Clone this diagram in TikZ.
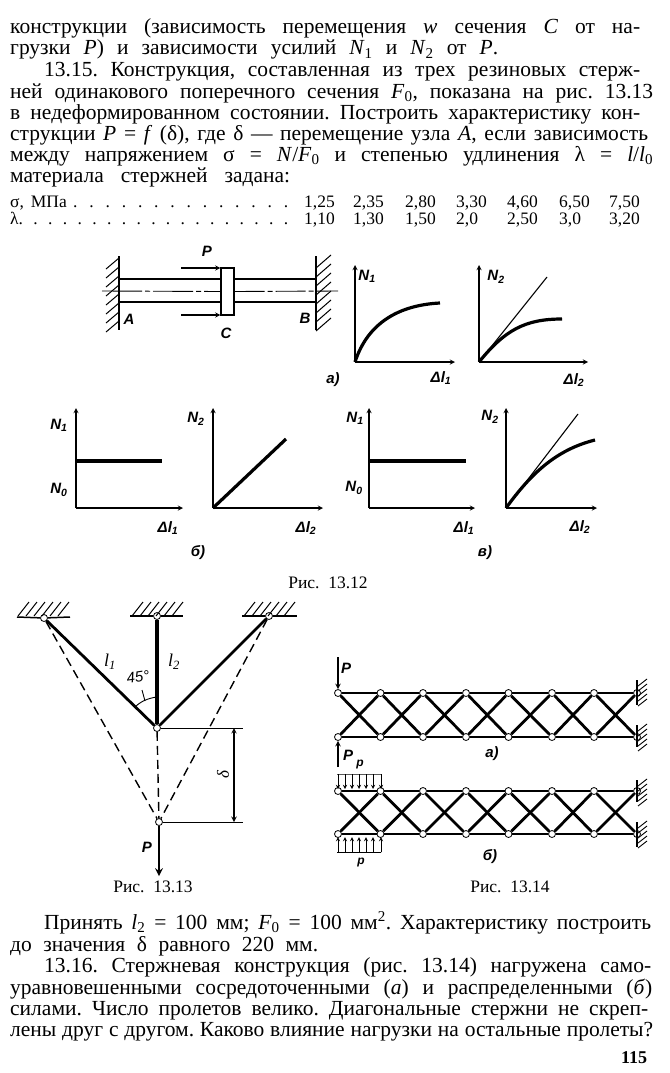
\documentclass[tikz,border=0pt]{standalone}
\usepackage{fontspec}
\setmainfont{Liberation Serif}
\newfontfamily\labelfont{Liberation Sans}
\usetikzlibrary{arrows}
\newcommand{\fitline}[2]{\makebox[#1pt][s]{#2}}
\newcommand{\pagefont}{\fontsize{21.5}{22}\selectfont\frenchspacing}
\newcommand{\tablefont}{\fontsize{17.5}{18}\selectfont}
\newcommand{\figlabel}{\fontsize{15}{16}\selectfont\labelfont\bfseries\itshape}
\tikzstyle{textline} = [anchor=base west, inner sep=0pt, font=\pagefont]
\tikzstyle{tablecell} = [anchor=base west, inner sep=0pt, font=\tablefont]
\tikzstyle{caption} = [anchor=base, inner sep=0pt, font=\tablefont]
\tikzstyle{lab} = [inner sep=0pt, font=\figlabel]
\tikzstyle{joint} = [circle, draw=black, fill=white, thick, inner sep=0pt, minimum size=7pt]
\tikzstyle{bar} = [line width=2.8pt]
\tikzstyle{chord} = [line width=2.2pt]
\tikzstyle{thin line} = [line width=0.9pt]
\tikzstyle{axis} = [line width=1.3pt,->,>= stealth]
\tikzstyle{curve} = [line width=3.2pt]
\tikzstyle{hatch} = [line width=1pt]
\tikzstyle{deformed} = [line width=1.4pt, dash pattern=on 9pt off 5pt]

\begin{document}
\begin{tikzpicture}[x=1pt,y=-1pt]
\useasboundingbox [fill=white] (0,0) rectangle (669,1073);

% text above
\node (top1) [textline] at (10,34) {\fitline{630}{конструкции (зависимость перемещения \textit{w} сечения \textit{C} от на-}};
\node (top2) [textline] at (10,55) {\fitline{488}{грузки \textit{P}) и зависимости усилий \textit{N}\textsubscript{1} и \textit{N}\textsubscript{2} от \textit{P}.}};
\node (top3) [textline] at (44,76) {\fitline{596}{13.15. Конструкция, составленная из трех резиновых стерж-}};
\node (top4) [textline] at (10,98) {\fitline{643}{ней одинакового поперечного сечения \textit{F}\textsubscript{0}, показана на рис. 13.13}};
\node (top5) [textline] at (10,119) {\fitline{630}{в недеформированном состоянии. Построить характеристику кон-}};
\node (top6) [textline] at (10,140) {\fitline{638}{струкции \textit{P} = \textit{f} (δ), где δ — перемещение узла \textit{A}, если зависимость}};
\node (top7) [textline] at (10,161) {\fitline{643}{между напряжением σ = \textit{N}/\textit{F}\textsubscript{0} и степенью удлинения λ = \textit{l}/\textit{l}\textsubscript{0}}};
\node (top8) [textline] at (10,182) {\fitline{280}{материала стержней задана:}};

% table
\node (rowa) [tablecell] at (10,207) {\fitline{278}{σ, МПа . . . . . . . . . . . . . .}};
\node (rowb) [tablecell] at (10,224) {\fitline{278}{λ. . . . . . . . . . . . . . . . . . .}};
\foreach \x/\a/\b [count=\i] in {304/{1,25}/{1,10},353/{2,35}/{1,30},405/{2,80}/{1,50},456/{3,30}/{2,0},507/{4,60}/{2,50},559/{6,50}/{3,0},609/{7,50}/{3,20}}{
  \node (cella\i) [tablecell] at (\x,207) {\a};
  \node (cellb\i) [tablecell] at (\x,224) {\b};
}

% fig 13.12 a, the rod
\coordinate (wallAt) at (119,256);
\coordinate (wallAb) at (119,330);
\coordinate (wallBt) at (316,256);
\coordinate (wallBb) at (316,330);
\draw [line width=2.6pt](wallAt) -- (wallAb);
\draw [line width=2.6pt](wallBt) -- (wallBb);
\foreach \y in {258,267,...,322}{
  \draw [hatch](119,\y) -- (106,\y+11);
  \draw [hatch](331,\y-3) -- (316,\y+10);
}
\node (block) [rectangle, draw=black, line width=1.3pt, fill=white, minimum width=13pt, minimum height=47pt, inner sep=0pt] at (227.5,291.5) {};
\coordinate (centerl) at (102,291);
\coordinate (centerr) at (338,291);
\coordinate (bar1l) at (119,279);
\coordinate (bar2l) at (119,302);
\coordinate (bar1r) at (316,279);
\coordinate (bar2r) at (316,302);
\draw [line width=0.9pt, dash pattern=on 40pt off 3pt on 5pt off 3pt](centerl) -- (block.west);
\draw [line width=0.9pt, dash pattern=on 30pt off 3pt on 5pt off 3pt](block.east) -- (centerr);
\draw [chord](bar1l) -- (bar1l -| block.west);
\draw [chord](bar2l) -- (bar2l -| block.west);
\draw [chord](bar1r) -- (bar1r -| block.east);
\draw [chord](bar2r) -- (bar2r -| block.east);
\coordinate (force1) at (181,268);
\coordinate (force2) at (181,315);
\draw [axis](force1) -- (force1 -| block.west);
\draw [axis](force2) -- (force2 -| block.west);
\node (labP) [lab] at (207,251) {P};
\node (labA) [lab] at (129,319) {A};
\node (labB) [lab] at (305,318) {B};
\node (labC) [lab] at (226,333) {C};
\node (laba) [lab] at (333,380) {а)};

% fig 13.12 a, graphs
\coordinate (oa1) at (355,362);
\coordinate (oa2) at (479,362);
\draw [axis](oa1) -- (355,265);
\draw [axis](oa1) -- (455,362);
\draw [axis](oa2) -- (479,265);
\draw [axis](oa2) -- (588,362);
\draw [curve](oa1) .. controls (368,322) and (400,305) .. (440,303);
\draw [curve](oa2) .. controls (505,330) and (525,319) .. (562,319);
\draw [line width=1.1pt](oa2) -- (547,277);
\node (na1) [lab] at (367,276) {N\textsubscript{1}};
\node (na2) [lab] at (496,277) {N\textsubscript{2}};
\node (da1) [lab] at (441,378) {Δl\textsubscript{1}};
\node (da2) [lab] at (574,380) {Δl\textsubscript{2}};

% fig 13.12 b
\coordinate (ob1) at (76,508);
\coordinate (ob2) at (213,508);
\draw [axis](ob1) -- (76,408);
\draw [axis](ob1) -- (183,508);
\draw [axis](ob2) -- (213,408);
\draw [axis](ob2) -- (323,508);
\draw [curve](76,461) -- (162,461);
\draw [curve](ob2) -- (286,439);
\node (nb1) [lab] at (59,425) {N\textsubscript{1}};
\node (nb0) [lab] at (59,490) {N\textsubscript{0}};
\node (nb2) [lab] at (196,419) {N\textsubscript{2}};
\node (db1) [lab] at (168,528) {Δl\textsubscript{1}};
\node (db2) [lab] at (306,528) {Δl\textsubscript{2}};
\node (labb) [lab] at (198,553) {б)};

% fig 13.12 c
\coordinate (oc1) at (369,508);
\coordinate (oc2) at (506,508);
\draw [axis](oc1) -- (369,408);
\draw [axis](oc1) -- (475,508);
\draw [axis](oc2) -- (506,408);
\draw [axis](oc2) -- (597,508);
\draw [curve](369,461) -- (466,461);
\draw [line width=2.6pt](369,461) -- (oc1);
\draw [line width=1.1pt](oc2) -- (578,414);
\draw [curve](oc2) .. controls (530,475) and (555,450) .. (595,440);
\node (nc1) [lab] at (355,418) {N\textsubscript{1}};
\node (nc0) [lab] at (354,488) {N\textsubscript{0}};
\node (nc2) [lab] at (490,417) {N\textsubscript{2}};
\node (dc1) [lab] at (464,528) {Δl\textsubscript{1}};
\node (dc2) [lab] at (580,527) {Δl\textsubscript{2}};
\node (labc) [lab] at (485,553) {в)};
\node (cap12) [caption] at (328,588) {Рис.\ \ 13.12};

% fig 13.13
\node (pinl) [joint] at (44,618) {};
\node (pinm) [joint] at (157,616) {};
\node (pinr) [joint] at (269,616) {};
\node (mid) [joint] at (157,728) {};
\node (low) [joint] at (159,822) {};
\coordinate (loadend) at (159,876);
\coordinate (dimtop) at (243,728);
\coordinate (dimlow) at (243,822);
\draw [line width=1.5pt](17,617) -- (pinl);
\draw [line width=1.5pt](pinl) -- (70,617);
\draw [line width=1.5pt](130,616) -- (pinm);
\draw [line width=1.5pt](pinm) -- (183,616);
\draw [line width=1.5pt](242,616) -- (pinr);
\draw [line width=1.5pt](pinr) -- (297,616);
\foreach \xa in {18,132,244}{
  \foreach \i in {0,...,5}{
    \draw [hatch](\xa+8*\i,616) -- (\xa+8*\i+11,602);
  }
}
\draw [bar](pinl) -- (mid);
\draw [line width=3.4pt](pinm) -- (mid);
\draw [bar](pinr) -- (mid);
\draw [deformed](pinl) -- (low);
\draw [deformed](pinr) -- (low);
\draw [deformed](mid) -- (low);
\draw [line width=2.4pt,->,>= stealth](low) -- (loadend);
\draw [thin line](mid) -- (dimtop);
\draw [thin line](low) -- (dimlow);
\draw [line width=1.4pt,<->,>= stealth](234,728) -- (234,822);
\draw [thin line](135,707) .. controls (141,701) and (149,698) .. (157,697);
\draw [thin line](142,690) -- (145,701);
\node (ll1) [lab, font=\fontsize{18}{19}\selectfont\itshape] at (110,662) {l\textsubscript{1}};
\node (ll2) [lab, font=\fontsize{18}{19}\selectfont\itshape] at (174,662) {l\textsubscript{2}};
\node (ang) [lab, font=\fontsize{15}{16}\selectfont\labelfont\itshape, rotate=8] at (138,677) {45°};
\node (delta) [lab, font=\fontsize{17}{18}\selectfont\itshape, rotate=90] at (223,775) {δ};
\node (labPb) [lab] at (147,847) {P};
\node (cap13) [caption] at (153,892) {Рис.\ \ 13.13};

% fig 13.14 a and b
\foreach \x [count=\i] in {338,380.5,423,466,508.5,552,594,637}{
  \node (ta\i) [joint] at (\x,693) {};
  \node (ba\i) [joint] at (\x,737) {};
  \node (tb\i) [joint] at (\x,791) {};
  \node (bb\i) [joint] at (\x,834) {};
}
\foreach \i [evaluate=\i as \j using int(\i+1)] in {1,...,7}{
  \draw [chord](ta\i) -- (ta\j);
  \draw [chord](ba\i) -- (ba\j);
  \draw [chord](tb\i) -- (tb\j);
  \draw [chord](bb\i) -- (bb\j);
  \draw [bar](ta\i) -- (ba\j);
  \draw [bar](ba\i) -- (ta\j);
  \draw [bar](tb\i) -- (bb\j);
  \draw [bar](bb\i) -- (tb\j);
}
\foreach \ya/\yb in {680/705,725/747,780/802,822/847}{
  \draw [line width=2pt](637,\ya) -- (637,\yb);
  \foreach \i in {0,...,4}{
    \draw [line width=0.9pt](647,\ya+5*\i-1) -- (638,\ya+5*\i+6);
  }
}
\coordinate (pa) at (338,657);
\coordinate (pb) at (338,767);
\draw [line width=1.4pt,->,>= stealth](pa) -- (ta1);
\draw [line width=1.4pt,->,>= stealth](pb) -- (ba1);
\node (labP1) [lab] at (346,668) {P};
\node (labP2) [lab] at (348,755) {P};
\node (laba2) [lab] at (492,754) {а)};
\node (loadt) [rectangle, draw=black, line width=0.9pt, minimum width=44pt, minimum height=0pt, inner sep=0pt] at (359,774) {};
\node (loadb) [rectangle, draw=black, line width=0.9pt, minimum width=44pt, minimum height=0pt, inner sep=0pt] at (359,852) {};
\foreach \x in {338,345,352,359,366,373,381}{
  \draw [line width=0.9pt,->,>= stealth](\x,774) -- (\x,789);
  \draw [line width=0.9pt,->,>= stealth](\x,852) -- (\x,837);
}
\node (labp1) [lab, font=\fontsize{12}{13}\selectfont\labelfont\bfseries\itshape] at (360,765) {p};
\node (labp2) [lab, font=\fontsize{12}{13}\selectfont\labelfont\bfseries\itshape] at (361,863) {p};
\node (labb2) [lab] at (490,857) {б)};
\node (cap14) [caption] at (510,892) {Рис.\ \ 13.14};

% text below
\node (low1) [textline] at (44,929) {\fitline{607}{Принять \textit{l}\textsubscript{2} = 100 мм; \textit{F}\textsubscript{0} = 100 мм\textsuperscript{2}. Характеристику построить}};
\node (low2) [textline] at (10,951) {\fitline{308}{до значения δ равного 220 мм.}};
\node (low3) [textline] at (44,972) {\fitline{607}{13.16. Стержневая конструкция (рис. 13.14) нагружена само-}};
\node (low4) [textline] at (10,994) {\fitline{642}{уравновешенными сосредоточенными (\textit{а}) и распределенными (\textit{б})}};
\node (low5) [textline] at (10,1015) {\fitline{638}{силами. Число пролетов велико. Диагональные стержни не скреп-}};
\node (low6) [textline] at (10,1036) {\fitline{643}{лены друг с другом. Каково влияние нагрузки на остальные пролеты?}};
\node (pagenum) [textline, font=\fontsize{18}{19}\selectfont\bfseries] at (621,1063) {115};
\end{tikzpicture}
\end{document}
